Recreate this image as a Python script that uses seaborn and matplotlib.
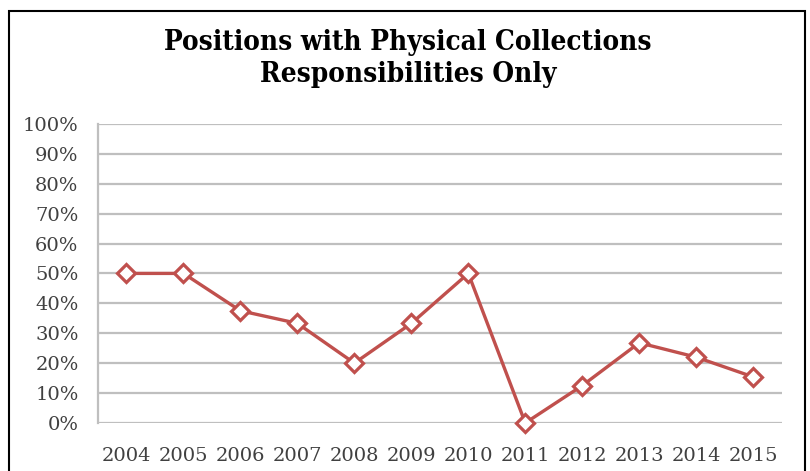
import numpy as np
import pandas as pd
import seaborn as sns
import matplotlib.pyplot as plt
from matplotlib.patches import Rectangle
from matplotlib.ticker import FixedLocator, PercentFormatter

# values
years = ["2004", "2005", "2006", "2007", "2008", "2009",
         "2010", "2011", "2012", "2013", "2014", "2015"]
share = [50.0, 50.0, 37.5, 33.3, 20.0, 33.3, 50.0, 0.0, 12.5, 26.8, 22.0, 15.4]
y_ticks = [0, 10, 20, 30, 40, 50, 60, 70, 80, 90, 100]

df = pd.DataFrame({"Year": years, "Share": share})
df["pos"] = np.arange(len(years))

sns.set_style("white")
plt.rcParams["font.family"] = ["DejaVu Serif"]

fig = plt.figure(figsize=(8.1, 4.71), dpi=100)
ax = fig.add_axes([0.121, 0.102, 0.844, 0.635])

red = "#C0504D"
grid_c = "#BFBFBF"
txt_c = "#404040"

sns.lineplot(data=df, x="pos", y="Share", ax=ax, color=red, linewidth=2.4,
             marker="D", markersize=9, markerfacecolor="white",
             markeredgecolor=red, markeredgewidth=2.3, zorder=3, clip_on=False)

ax.set_xlim(-0.5, len(years) - 0.5)
ax.set_ylim(0, 100)
ax.set_yticks(y_ticks)
ax.yaxis.set_major_formatter(PercentFormatter(decimals=0))
ax.set_xticks(df["pos"])
ax.set_xticklabels(years)
ax.xaxis.set_minor_locator(FixedLocator(np.arange(-0.5, len(years), 1.0)))

ax.grid(axis="y", color=grid_c, linewidth=1.6)
ax.set_axisbelow(True)
for side in ["top", "right", "bottom"]:
    ax.spines[side].set_visible(False)
ax.spines["left"].set_color(grid_c)
ax.spines["left"].set_linewidth(1.6)

ax.tick_params(axis="x", which="major", length=0, pad=17, labelsize=14, labelcolor=txt_c)
ax.tick_params(axis="x", which="minor", length=5, width=1.5, color=grid_c, direction="out")
ax.tick_params(axis="y", length=5, width=1.5, color=grid_c, pad=9, labelsize=14, labelcolor=txt_c)
ax.set_xlabel("")
ax.set_ylabel("")

fig.text(0.504, 0.876, "Positions with Physical Collections\nResponsibilities Only",
         ha="center", va="center", fontsize=20, fontweight="bold",
         fontstretch="condensed", linespacing=1.2, color="black")

# outer chart frame
fig.patches.append(Rectangle((9 / 810, -0.05), 796 / 810, 1.05 - 11 / 471,
                             transform=fig.transFigure, fill=False,
                             edgecolor="black", linewidth=1.5))

fig.savefig("out.png", dpi=100)
